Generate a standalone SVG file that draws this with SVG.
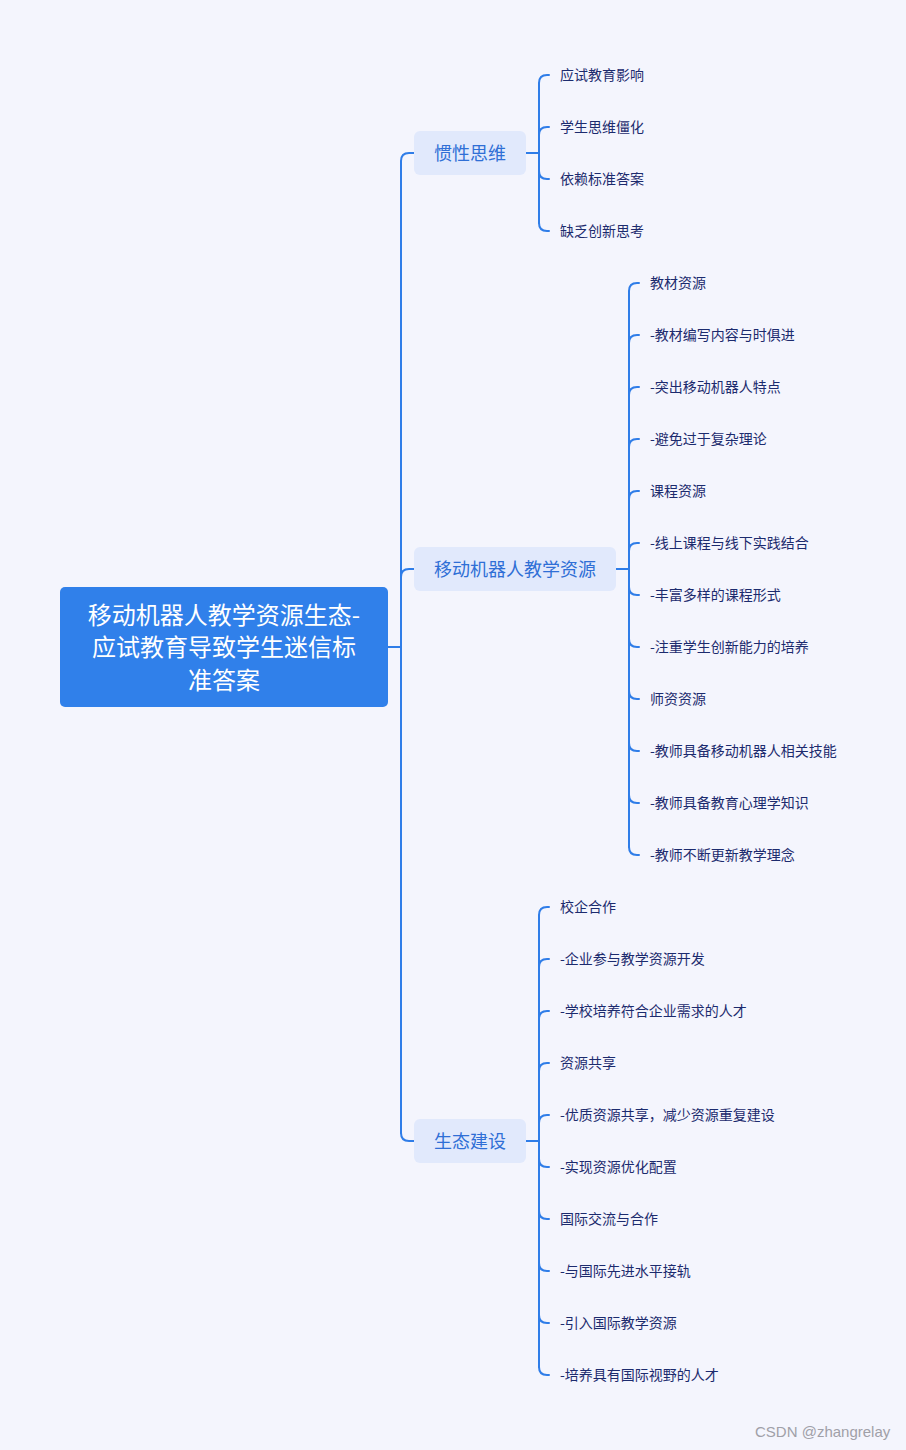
<svg xmlns="http://www.w3.org/2000/svg" width="906" height="1450" viewBox="0 0 906 1450">
<style>
.bg{fill:#f4f5fd}
.root{fill:#3080ea}
.rt{fill:#ffffff;font-family:"Noto Sans CJK SC","Noto Sans",sans-serif;font-size:24px;text-anchor:middle;dominant-baseline:central}
.br{fill:#e1e9fc}
.bt{fill:#2f6fd6;font-family:"Noto Sans CJK SC","Noto Sans",sans-serif;font-size:18px;text-anchor:middle;dominant-baseline:central}
.lt{fill:#1c2b6e;font-family:"Noto Sans CJK SC","Noto Sans",sans-serif;font-size:14px;dominant-baseline:central}
.ln{fill:none;stroke:#2f7de8;stroke-width:2;stroke-linecap:round}
.wm{fill:#a0a0a8;font-family:"Liberation Sans",Arial,sans-serif;font-size:15px}
</style>
<rect class="bg" x="0" y="0" width="906" height="1450"/>
<g id="connectors">
<path class="ln" d="M388,647 H401"/>
<path class="ln" d="M401,1133 V161 Q401,153 409,153 H414"/>
<path class="ln" d="M401,1133 Q401,1141 409,1141 H414"/>
<path class="ln" d="M401,577 Q401,569 409,569 H414"/>
<path class="ln" d="M526,153 H539"/>
<path class="ln" d="M539,223 V83 Q539,75 547,75 H549"/>
<path class="ln" d="M539,223 Q539,231 547,231 H549"/>
<path class="ln" d="M539,135 Q539,127 547,127 H549"/>
<path class="ln" d="M539,171 Q539,179 547,179 H549"/>
<path class="ln" d="M616,569 H629"/>
<path class="ln" d="M629,847 V291 Q629,283 637,283 H639"/>
<path class="ln" d="M629,847 Q629,855 637,855 H639"/>
<path class="ln" d="M629,343 Q629,335 637,335 H639"/>
<path class="ln" d="M629,395 Q629,387 637,387 H639"/>
<path class="ln" d="M629,447 Q629,439 637,439 H639"/>
<path class="ln" d="M629,499 Q629,491 637,491 H639"/>
<path class="ln" d="M629,551 Q629,543 637,543 H639"/>
<path class="ln" d="M629,587 Q629,595 637,595 H639"/>
<path class="ln" d="M629,639 Q629,647 637,647 H639"/>
<path class="ln" d="M629,691 Q629,699 637,699 H639"/>
<path class="ln" d="M629,743 Q629,751 637,751 H639"/>
<path class="ln" d="M629,795 Q629,803 637,803 H639"/>
<path class="ln" d="M526,1141 H539"/>
<path class="ln" d="M539,1367 V915 Q539,907 547,907 H549"/>
<path class="ln" d="M539,1367 Q539,1375 547,1375 H549"/>
<path class="ln" d="M539,967 Q539,959 547,959 H549"/>
<path class="ln" d="M539,1019 Q539,1011 547,1011 H549"/>
<path class="ln" d="M539,1071 Q539,1063 547,1063 H549"/>
<path class="ln" d="M539,1123 Q539,1115 547,1115 H549"/>
<path class="ln" d="M539,1159 Q539,1167 547,1167 H549"/>
<path class="ln" d="M539,1211 Q539,1219 547,1219 H549"/>
<path class="ln" d="M539,1263 Q539,1271 547,1271 H549"/>
<path class="ln" d="M539,1315 Q539,1323 547,1323 H549"/>
</g>
<g id="root">
<rect class="root" x="60" y="587" width="328" height="120" rx="5"/>
<text class="rt" x="224" y="613">移动机器人教学资源生态-</text>
<text class="rt" x="224" y="645">应试教育导致学生迷信标</text>
<text class="rt" x="224" y="678">准答案</text>
</g>
<g id="b1">
<rect class="br" x="414" y="131" width="112" height="44" rx="6"/>
<text class="bt" x="470" y="152">惯性思维</text>
</g>
<g id="b2">
<rect class="br" x="414" y="547" width="202" height="44" rx="6"/>
<text class="bt" x="515" y="568">移动机器人教学资源</text>
</g>
<g id="b3">
<rect class="br" x="414" y="1119" width="112" height="44" rx="6"/>
<text class="bt" x="470" y="1140">生态建设</text>
</g>
<g id="leaves1">
<text class="lt" x="560" y="74">应试教育影响</text>
<text class="lt" x="560" y="126">学生思维僵化</text>
<text class="lt" x="560" y="178">依赖标准答案</text>
<text class="lt" x="560" y="230">缺乏创新思考</text>
</g>
<g id="leaves2">
<text class="lt" x="650" y="282">教材资源</text>
<text class="lt" x="650" y="334">-教材编写内容与时俱进</text>
<text class="lt" x="650" y="386">-突出移动机器人特点</text>
<text class="lt" x="650" y="438">-避免过于复杂理论</text>
<text class="lt" x="650" y="490">课程资源</text>
<text class="lt" x="650" y="542">-线上课程与线下实践结合</text>
<text class="lt" x="650" y="594">-丰富多样的课程形式</text>
<text class="lt" x="650" y="646">-注重学生创新能力的培养</text>
<text class="lt" x="650" y="698">师资资源</text>
<text class="lt" x="650" y="750">-教师具备移动机器人相关技能</text>
<text class="lt" x="650" y="802">-教师具备教育心理学知识</text>
<text class="lt" x="650" y="854">-教师不断更新教学理念</text>
</g>
<g id="leaves3">
<text class="lt" x="560" y="906">校企合作</text>
<text class="lt" x="560" y="958">-企业参与教学资源开发</text>
<text class="lt" x="560" y="1010">-学校培养符合企业需求的人才</text>
<text class="lt" x="560" y="1062">资源共享</text>
<text class="lt" x="560" y="1114">-优质资源共享，减少资源重复建设</text>
<text class="lt" x="560" y="1166">-实现资源优化配置</text>
<text class="lt" x="560" y="1218">国际交流与合作</text>
<text class="lt" x="560" y="1270">-与国际先进水平接轨</text>
<text class="lt" x="560" y="1322">-引入国际教学资源</text>
<text class="lt" x="560" y="1374">-培养具有国际视野的人才</text>
</g>
<text class="wm" x="755" y="1437">CSDN @zhangrelay</text>
</svg>
